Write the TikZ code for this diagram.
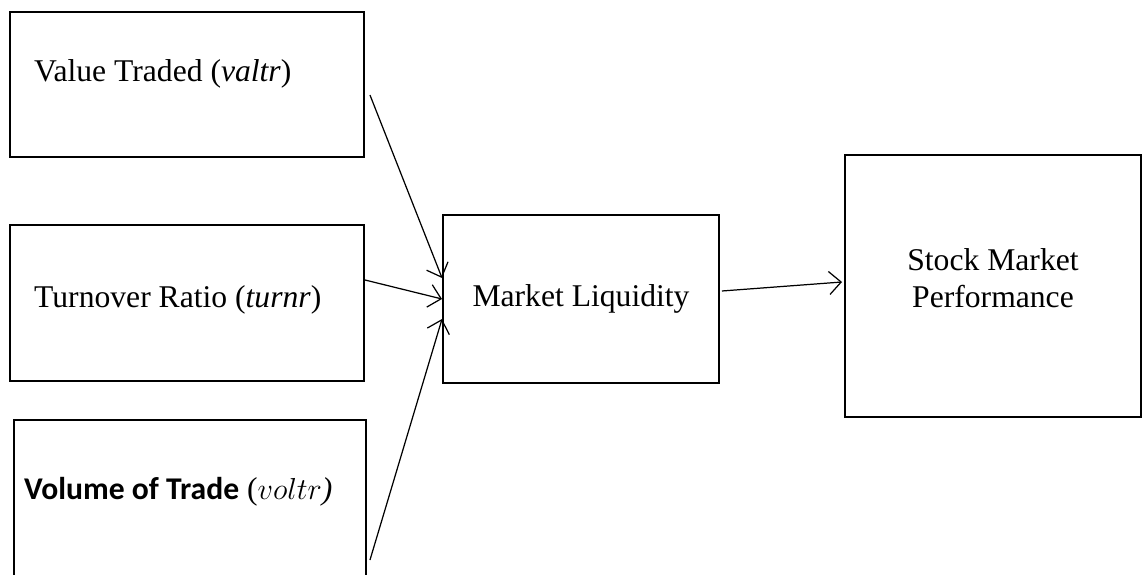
\documentclass[tikz,border=0pt]{standalone}
\usepackage{fontspec}
\setmainfont{Liberation Serif}
\newfontfamily\calibri{Carlito}
\usepackage{tikz}
\usetikzlibrary{arrows.meta,calc,positioning}

\tikzset{
    varbox/.style={draw,line width=1.1pt,rectangle,inner sep=0pt},
    link/.style={line width=0.7pt,-{Straight Barb[length=2.4mm,width=4.6mm]}}
}

\begin{document}
\begin{tikzpicture}[font=\fontsize{18}{21}\selectfont]
        % page frame
        \useasboundingbox (0,0) rectangle (22.92,-11.5);

        % the three liquidity measures
        \node[varbox,minimum width=7.08cm,minimum height=2.9cm] (valbox) at (3.74,-1.69) {};
        \node[varbox,minimum width=7.08cm,minimum height=3.12cm] (turnbox) at (3.74,-6.06) {};
        \node[varbox,minimum width=7.04cm,minimum height=4.1cm] (volbox) at (3.8,-10.45) {};

        \node[anchor=west] (valtxt) at (0.56,-1.48) {Value Traded (\textit{valtr})};
        \node[anchor=west] (turntxt) at (0.56,-6.0) {Turnover Ratio (\textit{turnr})};
        \node[anchor=west] (voltxt) at (0.36,-9.84) {{\calibri\bfseries Volume of Trade} (\(voltr\)\textit{)}};

        % middle and right boxes
        \node[varbox,minimum width=5.52cm,minimum height=3.36cm] (liq) at (11.62,-5.98) {};
        \node (liqtxt) at (11.62,-5.98) {Market Liquidity};
        \node[varbox,minimum width=5.92cm,minimum height=5.24cm] (perf) at (19.86,-5.72) {};
        \node[align=center] (perftxt) at (19.86,-5.57) {Stock Market\\Performance};

        % arrow end points
        \coordinate (a1) at ($(valbox.east)+(0.1,-0.21)$);
        \coordinate (a2) at ($(turnbox.east)+(0,0.46)$);
        \coordinate (a3) at ($(volbox.east)+(0.06,-0.75)$);
        \coordinate (a4) at ($(liq.east)+(0.04,0.16)$);
        \coordinate (b4) at ($(perf.west)+(-0.04,0.08)$);

        \draw[link] (a1) -- ($(liq.west)+(0,0.42)$);
        \draw[link] (a2) -- (liq.west);
        \draw[link] (a3) -- ($(liq.west)+(0,-0.4)$);
        \draw[link] (a4) -- (b4);
\end{tikzpicture}
\end{document}
